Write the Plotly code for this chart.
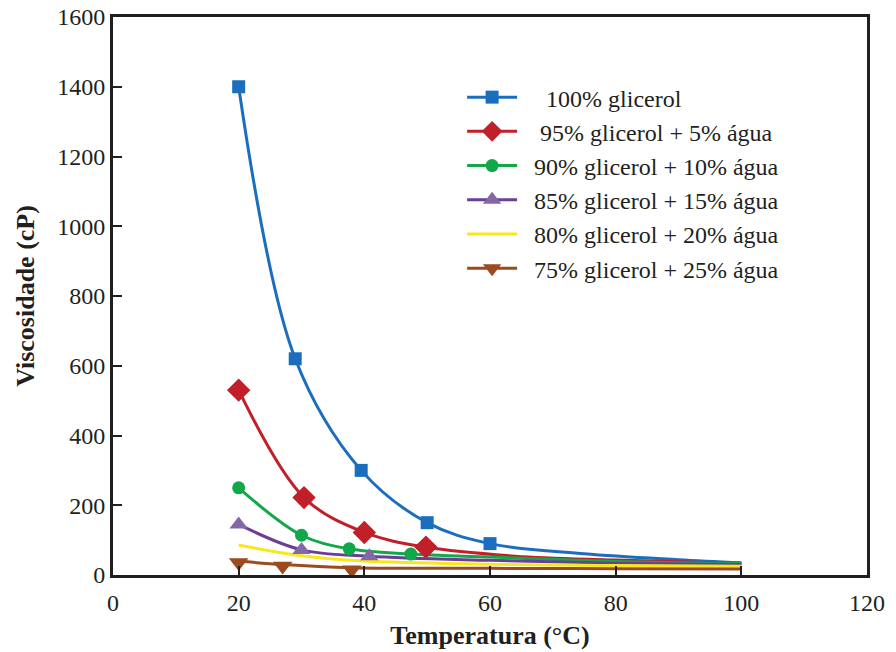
import plotly.graph_objects as go

# ---- data ----
names = ["    100% glicerol", "   95% glicerol + 5% água", "  90% glicerol + 10% água",
         "  85% glicerol + 15% água", "  80% glicerol + 20% água", "  75% glicerol + 25% água"]

# measured points (markers)
g100_x = [20, 29, 39.5, 50, 60]
g100_y = [1400, 620, 300, 150, 90]
g95_x = [20, 30.4, 40, 49.8]
g95_y = [530, 222, 122, 80]
g90_x = [20, 30, 37.6, 47.4]
g90_y = [250, 114, 75, 60]
g85_x = [20, 30, 40.8]
g85_y = [145, 72, 54]
g80_x = []
g80_y = []
g75_x = [20, 27, 38]
g75_y = [36, 26, 15]

# fitted-curve points
c100_x = [20, 29, 39.5, 50, 60, 75, 90, 100]
c100_y = [1400, 620, 300, 150, 90, 61, 44, 35]
c95_x = [20, 30.4, 40, 49.8, 64, 80, 100]
c95_y = [530, 222, 122, 80, 54, 43, 33]
c90_x = [20, 30, 37.6, 47.4, 64, 80, 100]
c90_y = [250, 114, 75, 60, 49, 39, 33]
c85_x = [20, 30, 40.8, 60, 80, 100]
c85_y = [145, 72, 54, 42, 34, 30]
c80_x = [20, 30, 40, 60, 80, 100]
c80_y = [86, 55, 40, 31, 27, 25]
c75_x = [20, 27, 38, 60, 80, 100]
c75_y = [40, 30, 21, 19, 18, 17]

x_ticks = [0, 20, 40, 60, 80, 100, 120]
y_ticks = [0, 200, 400, 600, 800, 1000, 1200, 1400, 1600]

colors = ["#1b6ebe", "#c1202b", "#12a84a", "#6b3e98", "#f7e81c", "#9c4a1f"]
mfill = ["#1b6ebe", "#c1202b", "#12a84a", "#8566a8", "#f7e81c", "#9c4a1f"]
symbols = ["square", "diamond", "circle", "triangle-up", None, "triangle-down"]
msizes = [13, 18, 13, 16, 0, 17]

curves = [(c100_x, c100_y), (c95_x, c95_y), (c90_x, c90_y), (c85_x, c85_y), (c80_x, c80_y), (c75_x, c75_y)]
points = [(g100_x, g100_y), (g95_x, g95_y), (g90_x, g90_y), (g85_x, g85_y), (g80_x, g80_y), (g75_x, g75_y)]

fig = go.Figure()
for i, (cx, cy) in enumerate(curves):
    fig.add_trace(go.Scatter(x=cx, y=cy, mode="lines", line=dict(color=colors[i], width=3, shape="spline", smoothing=1.0),
                             showlegend=False, hoverinfo="skip"))
for i, (px, py) in enumerate(points):
    if px:
        fig.add_trace(go.Scatter(x=px, y=py, mode="markers",
                                 marker=dict(symbol=symbols[i], size=msizes[i], color=mfill[i]),
                                 showlegend=False))
for i, n in enumerate(names):
    if symbols[i]:
        fig.add_trace(go.Scatter(x=[None], y=[None], mode="lines+markers", name=n,
                                 line=dict(color=colors[i], width=3),
                                 marker=dict(symbol=symbols[i], size=msizes[i], color=mfill[i])))
    else:
        fig.add_trace(go.Scatter(x=[None], y=[None], mode="lines", name=n,
                                 line=dict(color=colors[i], width=3)))

font_family = "Liberation Serif"
fig.update_layout(
    width=896, height=652,
    margin=dict(l=113, r=29, t=17, b=77),
    paper_bgcolor="white", plot_bgcolor="white",
    font=dict(family=font_family, color="#231f20", size=24),
    showlegend=True,
    legend=dict(x=0.463, y=0.896, xanchor="left", yanchor="top", bgcolor="rgba(0,0,0,0)",
                font=dict(size=24, family=font_family, color="#231f20"), tracegroupgap=0, itemwidth=50),
    xaxis=dict(range=[0, 120], tickvals=x_ticks, ticks="inside", ticklen=9, tickwidth=2, tickcolor="#231f20",
               showline=True, linewidth=3, linecolor="#231f20", mirror=True, showgrid=False, zeroline=False,
               tickfont=dict(size=24), ticklabelstandoff=4, automargin=False,
               title=dict(text="<b>Temperatura (°C)</b>", font=dict(size=26), standoff=12)),
    yaxis=dict(range=[0, 1600], tickvals=y_ticks, ticks="inside", ticklen=9, tickwidth=2, tickcolor="#231f20",
               showline=True, linewidth=3, linecolor="#231f20", mirror=True, showgrid=False, zeroline=False,
               tickfont=dict(size=24), automargin=False,
               title=dict(text="<b>Viscosidade (cP)</b>", font=dict(size=26), standoff=16)),
)

fig.write_html("out.html")
